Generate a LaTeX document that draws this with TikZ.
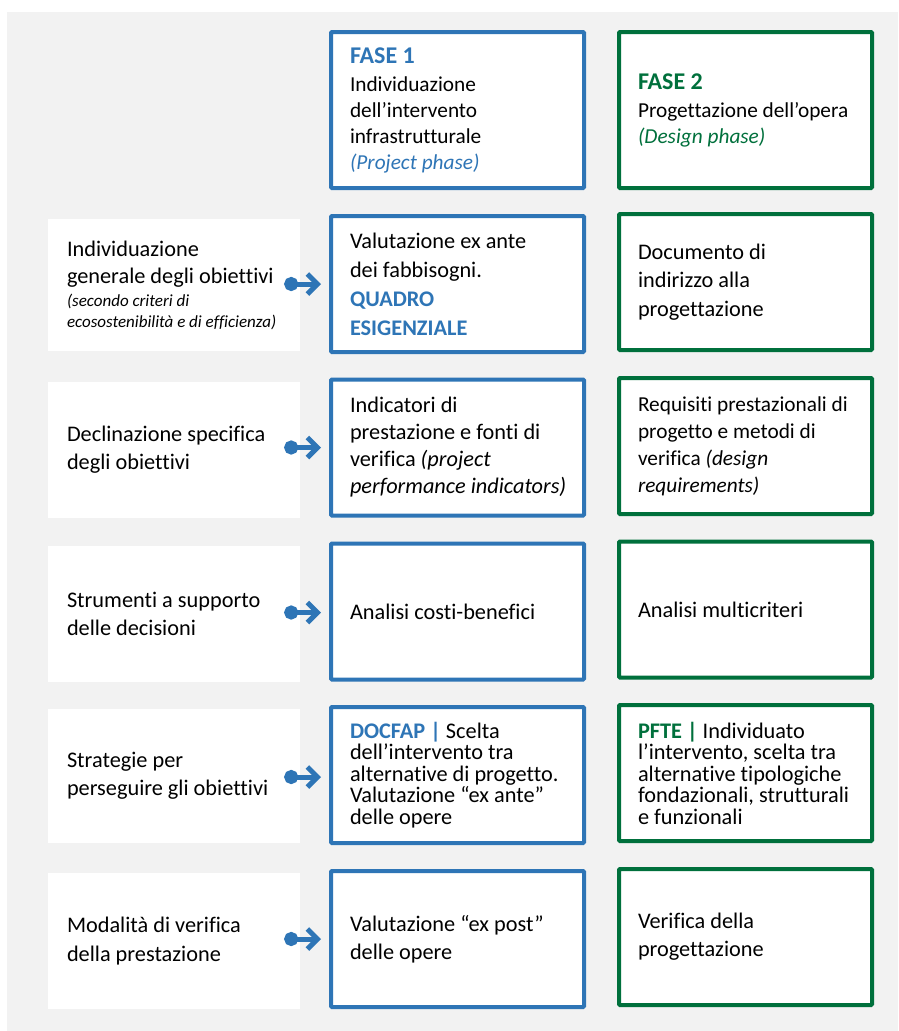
\documentclass[tikz,border=0pt]{standalone}
\usepackage{fontspec}
\setmainfont{Carlito}[Ligatures=NoCommon]
\usetikzlibrary{arrows.meta}
\definecolor{fblue}{RGB}{46,117,182}
\definecolor{fgreen}{RGB}{0,112,60}
\definecolor{bggray}{RGB}{242,242,242}
\newcommand{\hb}[1]{{\bfseries\color{fblue}#1}}
\newcommand{\hg}[1]{{\bfseries\color{fgreen}#1}}
\newcommand{\li}[1]{\mbox{#1}}
\begin{document}
\begin{tikzpicture}[x=1pt,y=-1pt,
  every node/.style={font=\fontsize{22.3}{28}\selectfont},
  bluebox/.style={draw=fblue,line width=4pt,fill=white,rounded corners=1pt,
    minimum width=253pt,minimum height=136pt,text width=215pt,inner xsep=19pt,inner ysep=0pt,align=flush left},
  greenbox/.style={bluebox,draw=fgreen},
  leftbox/.style={fill=white,minimum width=252pt,minimum height=136pt,text width=214pt,inner xsep=19pt,inner ysep=0pt,align=flush left},
  conn/.style={draw=fblue,line width=5pt,{Circle[length=14pt,width=14pt]}-{Straight Barb[length=10pt,width=20pt]},shorten >=8pt}
]
\useasboundingbox (0,0) rectangle (898,1031);
\fill[white] (0,0) rectangle (898,1031);
\fill[bggray] (7,12) rectangle (898,1031);

% header
\node[bluebox,minimum height=156pt] (f1) at (457.5,110) {{\bfseries\fontsize{24}{28}\selectfont\color{fblue}FASE 1\par}\vspace{2pt}{\fontsize{21.3}{26}\selectfont Individuazione\\dell’intervento\\infrastrutturale\\{\itshape\color{fblue}(Project phase)}\par}\vspace{-6pt}};
\node[greenbox,minimum height=156pt] (f2) at (745.5,110) {{\bfseries\fontsize{24}{28}\selectfont\color{fgreen}FASE 2\par}\vspace{2pt}{\fontsize{21.3}{26}\selectfont \li{Progettazione dell’opera}\\{\itshape\color{fgreen}(Design phase)}\par}\vspace{-7pt}};

% row 1
\node[leftbox,minimum height=132pt] (l1) at (174,285) {{\fontsize{22.3}{27}\selectfont Individuazione\\\li{generale degli obiettivi}\par}\vspace{2pt}{\fontsize{17}{21}\selectfont\itshape (secondo criteri di\\\li{ecosostenibilità e di efficienza)}\par}\vspace{-3pt}};
\node[bluebox] (b1) at (457.5,284) {{\fontsize{22.3}{29}\selectfont Valutazione ex ante\\dei fabbisogni.\\\hb{QUADRO}\\\hb{ESIGENZIALE}\par}};
\node[greenbox] (g1) at (745.5,282) {{\fontsize{22.3}{28.5}\selectfont Documento di\\indirizzo alla\\progettazione\par}};

% row 2
\node[leftbox] (l2) at (174,450) {{\fontsize{22.3}{28}\selectfont \li{Declinazione specifica}\\degli obiettivi\par}};
\node[bluebox] (b2) at (457.5,447.5) {{\fontsize{22.3}{27}\selectfont Indicatori di\\\li{prestazione e fonti di}\\verifica \textit{(project}\\\li{\textit{performance indicators)}}\par}\vspace{-6pt}};
\node[greenbox] (g2) at (745.5,446) {{\fontsize{21.3}{27}\selectfont \li{Requisiti prestazionali di}\\progetto e metodi di\\verifica \textit{(design}\\\textit{requirements)}\par}};

% row 3
\node[leftbox] (l3) at (174,614) {{\fontsize{22.3}{28}\selectfont \li{Strumenti a supporto}\\delle decisioni\par}};
\node[bluebox] (b3) at (457.5,611.5) {\li{Analisi costi-benefici}};
\node[greenbox] (g3) at (745.5,609.5) {Analisi multicriteri};

% row 4
\node[leftbox,minimum height=134pt] (l4) at (174,776) {{\fontsize{22.3}{28}\selectfont Strategie per\\\li{perseguire gli obiettivi}\par}};
\node[bluebox] (b4) at (457.5,775) {{\fontsize{22.3}{21.5}\selectfont \hb{DOCFAP |} Scelta\\dell’intervento tra\\\li{alternative di progetto.}\\\li{Valutazione “ex ante”}\\delle opere\par}};
\node[greenbox] (g4) at (745.5,773) {{\fontsize{22.3}{21.5}\selectfont \hg{PFTE |} Individuato\\\li{l’intervento, scelta tra}\\\li{alternative tipologiche}\\\li{fondazionali, strutturali}\\e funzionali\par}};

% row 5
\node[leftbox] (l5) at (174,941) {{\fontsize{22.3}{28.5}\selectfont \li{Modalità di verifica}\\della prestazione\par}};
\node[bluebox] (b5) at (457.5,939) {{\fontsize{22.3}{28}\selectfont \li{Valutazione “ex post”}\\delle opere\par}};
\node[greenbox] (g5) at (745.5,937) {{\fontsize{22.3}{28}\selectfont Verifica della\\progettazione\par}};

% connectors
\foreach \r/\dy in {1/0,2/0,3/-1,4/-2,5/0}{
  \draw[conn] ([xshift=-16pt,yshift=\dy pt]l\r.east |- b\r.west) -- ([yshift=\dy pt]b\r.west);
}
\end{tikzpicture}
\end{document}
